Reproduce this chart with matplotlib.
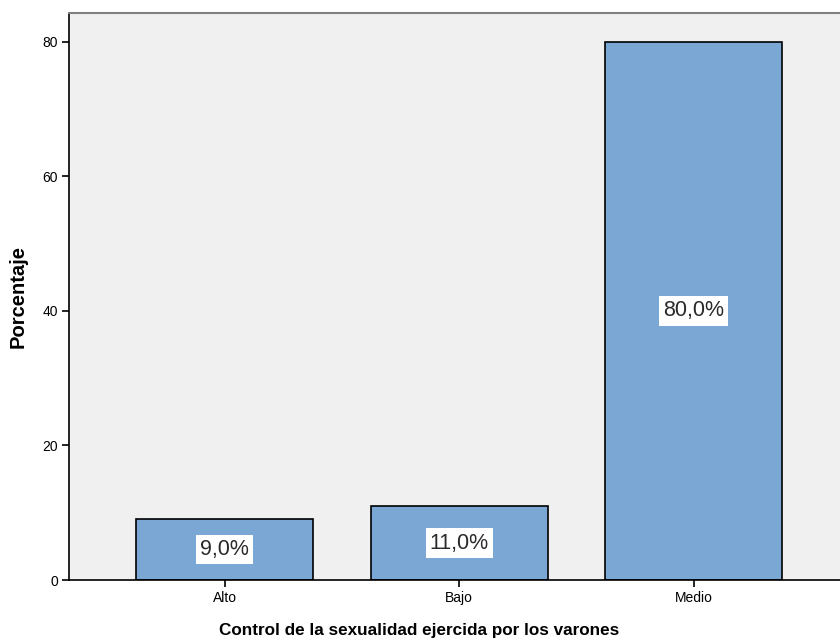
import matplotlib.pyplot as plt
import numpy as np

# --- Daten ---
categories = ["Alto", "Bajo", "Medio"]
percentages = [9.0, 11.0, 80.0]
value_labels = ["9,0%", "11,0%", "80,0%"]
yticks = [0, 20, 40, 60, 80]

bar_color = "#7BA7D5"
bg_color = "#F0F0F0"

fig = plt.figure(figsize=(8.4, 6.43), dpi=100)
ax_w = 1.0 - 69 / 840 + 0.01
ax = fig.add_axes([69 / 840, 63 / 643, ax_w, 567 / 643])
ax.set_facecolor(bg_color)

x = np.arange(len(categories))
ax.bar(x, percentages, width=0.755, color=bar_color, edgecolor="black", linewidth=1.2, zorder=2)

# Beschriftung in weissen Kästchen, mittig im Balken
for xi, v, lab in zip(x, percentages, value_labels):
    ax.text(xi, v / 2, lab, ha="center", va="center", fontsize=15.5,
            family="Liberation Sans", color="#2a2a2a", zorder=3,
            bbox=dict(facecolor="white", edgecolor="none", pad=3))

ax.set_xlim(-0.665, 2.66)
ax.set_ylim(0, 84.3)
ax.set_xticks(x)
ax.set_xticklabels(categories, family="Liberation Sans", fontsize=10)
ax.set_yticks(yticks)
ax.set_yticklabels([str(t) for t in yticks], family="Liberation Sans", fontsize=10)
ax.tick_params(axis="both", direction="out", length=5, width=1.2, color="black", pad=3)

ax.spines["right"].set_visible(False)
ax.spines["top"].set_color("#808080")
ax.spines["top"].set_linewidth(1.5)
ax.spines["left"].set_linewidth(1.2)
ax.spines["bottom"].set_linewidth(1.2)

ax.set_xlabel("Control de la sexualidad ejercida por los varones", fontsize=12.3,
              fontweight="bold", family="Liberation Sans", va="center")
ax.xaxis.set_label_coords((419 - 69) / (ax_w * 840), (580 - 631) / 567)
ax.set_ylabel("Porcentaje", fontsize=14.5, fontweight="bold", family="Liberation Sans", va="center")
ax.yaxis.set_label_coords((18 - 69) / (ax_w * 840), 0.5)

fig.savefig("out.png", dpi=100)
